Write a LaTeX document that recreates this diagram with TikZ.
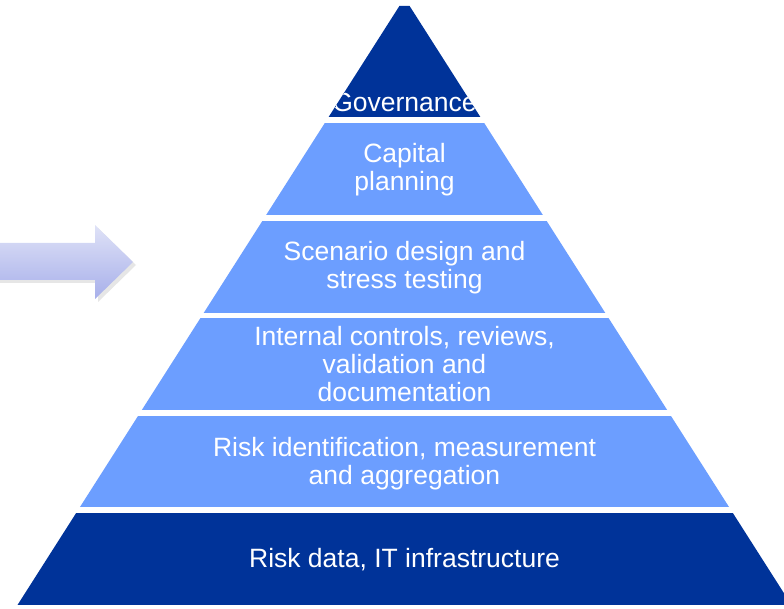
\documentclass[tikz,border=0pt]{standalone}
\usepackage{fontspec}
\setmainfont{Liberation Sans}
\usetikzlibrary{shadows}
\definecolor{darkband}{HTML}{003399}
\definecolor{lightband}{HTML}{6C9EFF}
\definecolor{arrowtop}{HTML}{DFE2F7}
\definecolor{arrowbot}{HTML}{A7AFEA}
\tikzset{
  bandtext/.style={text=white, align=center, inner sep=0pt,
    font=\fontsize{26.5}{28}\selectfont},
  darkfill/.style={fill=darkband},
  lightfill/.style={fill=lightband}
}
\newcommand{\ls}{\strut}
\begin{document}
\begin{tikzpicture}[x=1pt,y=-1pt]
\useasboundingbox (0,0) rectangle (784,609);
% arrow
\path[top color=arrowtop, bottom color=arrowbot, drop shadow={opacity=0.2, shadow xshift=3pt, shadow yshift=-3pt}]
  (-5,243) -- (95,243) -- (95,225) -- (133,262) -- (95,299) -- (95,280) -- (-5,280) -- cycle;
% pyramid
\begin{scope}
\clip (399.4,6) -- (409.6,6) -- (791.5,605) -- (17.5,605) -- cycle;
\fill[darkfill] (0,0) rectangle (800,117);
\fill[lightfill] (0,123) rectangle (800,215);
\fill[lightfill] (0,221) rectangle (800,313);
\fill[lightfill] (0,318) rectangle (800,410);
\fill[lightfill] (0,416) rectangle (800,507);
\fill[darkfill] (0,513) rectangle (800,605);
\node[bandtext] (gov) at (404.5,106.4) {\ls Governance};
\end{scope}
\node[bandtext] (cap) at (404.5,171.4) {\ls Capital\\\ls planning};
\node[bandtext] (scen) at (404.5,269.4) {\ls Scenario design and\\\ls stress testing};
\node[bandtext] (intc) at (404.5,367.4) {\ls Internal controls, reviews,\\\ls validation and\\\ls documentation};
\node[bandtext] (riskid) at (404.5,465.1) {\ls Risk identification, measurement\\\ls and aggregation};
\node[bandtext] (riskdata) at (404.5,561.4) {\ls Risk data, IT infrastructure};
\end{tikzpicture}
\end{document}
